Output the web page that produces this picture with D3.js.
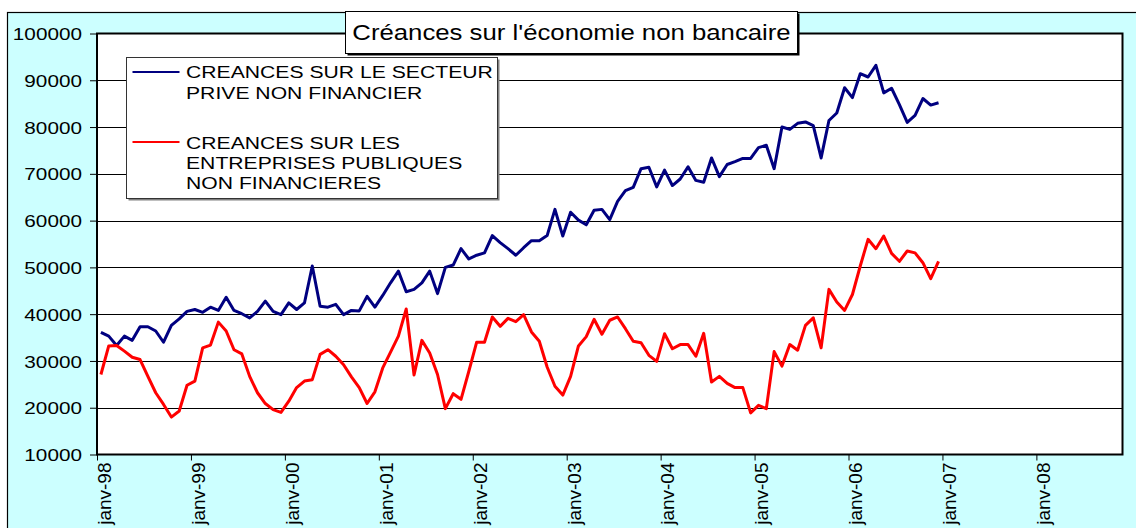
<!DOCTYPE html>
<html>
<head>
<meta charset="utf-8">
<script src="https://cdn.jsdelivr.net/npm/d3@7"></script>
<style>
  html, body { margin: 0; padding: 0; background: #ffffff; }
  svg { display: block; font-family: "Liberation Sans", Arial, sans-serif; }
</style>
</head>
<body>
<svg id="chart" width="1136" height="528"></svg>
<script>
// Monthly series, January 1998 to December 2006 (one value per month)
const titleText = "Créances sur l'économie non bancaire";

const prive = [
  36100, 35300, 33300, 35300, 34400, 37300, 37300, 36400, 34000, 37600, 39000, 40600,
  41000, 40400, 41500, 40800, 43600, 40800, 40100, 39200, 40600, 42800, 40600, 39900,
  42400, 41000, 42400, 50300, 41700, 41500, 42100, 39900, 40800, 40700, 43800, 41500,
  44000, 46700, 49200, 44800, 45300, 46700, 49200, 44400, 50000, 50500, 54000, 51800,
  52600, 53100, 56800, 55300, 54000, 52600, 54200, 55700, 55700, 56800, 62400, 56700,
  61800, 60100, 59100, 62200, 62400, 60200, 64100, 66400, 67100, 71100, 71400, 67200,
  70800, 67500, 68900, 71500, 68600, 68200, 73400, 69400, 72000, 72600, 73300, 73300,
  75600, 76100, 71100, 80000, 79500, 80800, 81100, 80300, 73400, 81400, 83000, 88400,
  86300, 91400, 90700, 93200, 87300, 88300, 84800, 81000, 82500, 86100, 84700, 85200
];

const publiques = [
  27100, 33200, 33300, 32100, 30800, 30300, 26700, 23200, 20700, 18000, 19300, 24800,
  25700, 32800, 33400, 38300, 36400, 32400, 31500, 26700, 23200, 20900, 19600, 19000,
  21400, 24300, 25700, 26000, 31400, 32400, 31000, 29200, 26600, 24300, 20900, 23400,
  28500, 31900, 35300, 41100, 27000, 34400, 31700, 27100, 19800, 23000, 21800, 27800,
  34000, 34000, 39400, 37400, 39100, 38400, 39900, 36200, 34200, 28700, 24600, 22700,
  26700, 33200, 35200, 38900, 35700, 38700, 39400, 36900, 34200, 33900, 31200, 29900,
  35800, 32600, 33500, 33500, 31000, 35900, 25500, 26700, 25200, 24300, 24300, 18900,
  20500, 19800, 32000, 28900, 33500, 32300, 37600, 39200, 32800, 45300, 42600, 40800,
  44200, 50300, 56000, 54000, 56700, 53000, 51300, 53500, 53100, 51000, 47600, 51300
];

const seriesLabels = [
  ["CREANCES SUR LE SECTEUR", "PRIVE NON FINANCIER"],
  ["CREANCES SUR LES", "ENTREPRISES PUBLIQUES", "NON FINANCIERES"]
];
const seriesColors = ["#000080", "#FF0000"];

const yTicks = [10000, 20000, 30000, 40000, 50000, 60000, 70000, 80000, 90000, 100000];
const xTickMonths = [0, 12, 24, 36, 48, 60, 72, 84, 96, 108, 120];
const xTickLabels = ["janv-98", "janv-99", "janv-00", "janv-01", "janv-02", "janv-03",
                     "janv-04", "janv-05", "janv-06", "janv-07", "janv-08"];

// ---------------------------------------------------------------------------
const W = 1136, H = 528;
const svg = d3.select("#chart");
const plot = { left: 97, top: 33.5, right: 1122.5, bottom: 454.5 };

// month axis: 131 monthly slots, points sit in the middle of their slot
const x = d3.scaleLinear().domain([0, 131]).range([plot.left, plot.right]);
const y = d3.scaleLinear().domain([10000, 100000]).range([plot.bottom, plot.top]);

// chart area background
svg.append("rect")
  .attr("x", 7.5).attr("y", 12.5)
  .attr("width", W).attr("height", H)
  .attr("fill", "#CCFFFF")
  .attr("stroke", "#000").attr("stroke-width", 1.2);

// plot area
svg.append("rect")
  .attr("x", plot.left).attr("y", plot.top)
  .attr("width", plot.right - plot.left).attr("height", plot.bottom - plot.top)
  .attr("fill", "#ffffff");

// horizontal gridlines
svg.append("g")
  .selectAll("line")
  .data(yTicks.slice(1, -1))
  .join("line")
  .attr("x1", plot.left).attr("x2", plot.right)
  .attr("y1", d => Math.round(y(d)) + 0.5).attr("y2", d => Math.round(y(d)) + 0.5)
  .attr("stroke", "#000").attr("stroke-width", 1);

// y axis
const yAxisG = svg.append("g")
  .attr("transform", `translate(${plot.left},0)`)
  .call(d3.axisLeft(y).tickValues(yTicks).tickSize(7).tickFormat(d3.format("d")));
yAxisG.select(".domain").remove();
yAxisG.selectAll(".tick line").attr("stroke", "#000");
yAxisG.selectAll(".tick text")
  .attr("x", null).attr("dy", "0.36em")
  .attr("transform", "translate(-15,0) scale(1.22,1)")
  .attr("font-size", 17)
  .attr("font-family", "'Liberation Sans', Arial, sans-serif")
  .attr("fill", "#000");

// x axis
const xAxisG = svg.append("g")
  .attr("transform", `translate(0,${plot.bottom})`)
  .call(d3.axisBottom(x).tickValues(xTickMonths).tickSize(6)
          .tickFormat((d, i) => xTickLabels[i]));
xAxisG.select(".domain").remove();
xAxisG.selectAll(".tick line").attr("stroke", "#000");
xAxisG.selectAll(".tick text")
  .attr("y", null).attr("x", null).attr("dy", "0.7em")
  .attr("text-anchor", "end")
  .attr("transform", "translate(0,8) rotate(-90)")
  .attr("font-size", 19)
  .attr("font-family", "'Liberation Sans', Arial, sans-serif")
  .attr("fill", "#000");

// series lines
const line = d3.line()
  .x((d, i) => x(i + 0.5))
  .y(d => y(d));

[prive, publiques].forEach((values, k) => {
  svg.append("path")
    .datum(values)
    .attr("fill", "none")
    .attr("stroke", seriesColors[k])
    .attr("stroke-width", 3)
    .attr("stroke-linejoin", "round")
    .attr("d", line);
});

// plot area frame
svg.append("rect")
  .attr("x", plot.left).attr("y", plot.top)
  .attr("width", plot.right - plot.left).attr("height", plot.bottom - plot.top)
  .attr("fill", "none")
  .attr("stroke", "#000").attr("stroke-width", 2);

// helper: horizontally widened text
function wideText(parent, tx, ty, str, size, sx, anchor) {
  const g = parent.append("g").attr("transform", `translate(${tx},${ty}) scale(${sx},1)`);
  g.append("text")
    .attr("text-anchor", anchor || "start")
    .attr("font-size", size)
    .attr("fill", "#000")
    .text(str);
  return g;
}

// legend
const legend = svg.append("g");
legend.append("rect")
  .attr("x", 128.5).attr("y", 59.5).attr("width", 371).attr("height", 141)
  .attr("fill", "#808080");
legend.append("rect")
  .attr("x", 126.5).attr("y", 57.5).attr("width", 371).attr("height", 141)
  .attr("fill", "#fff").attr("stroke", "#333").attr("stroke-width", 1);

const legendRows = [
  { lineY: 72, baselines: [78, 98.7] },
  { lineY: 142, baselines: [148.7, 169, 189.3] }
];
legendRows.forEach((row, k) => {
  legend.append("line")
    .attr("x1", 132.5).attr("x2", 179.5)
    .attr("y1", row.lineY).attr("y2", row.lineY)
    .attr("stroke", seriesColors[k]).attr("stroke-width", 2);
  seriesLabels[k].forEach((txt, j) => {
    wideText(legend, 186, row.baselines[j], txt, 17, 1.245, "start");
  });
});

// title box
const titleG = svg.append("g");
titleG.append("rect")
  .attr("x", 347.5).attr("y", 13.5).attr("width", 452).attr("height", 42)
  .attr("fill", "#000");
titleG.append("rect")
  .attr("x", 345.5).attr("y", 11.5).attr("width", 452).attr("height", 42)
  .attr("fill", "#fff").attr("stroke", "#000").attr("stroke-width", 1);
wideText(titleG, 571.5, 40, titleText, 22, 1.17, "middle");
</script>
</body>
</html>
